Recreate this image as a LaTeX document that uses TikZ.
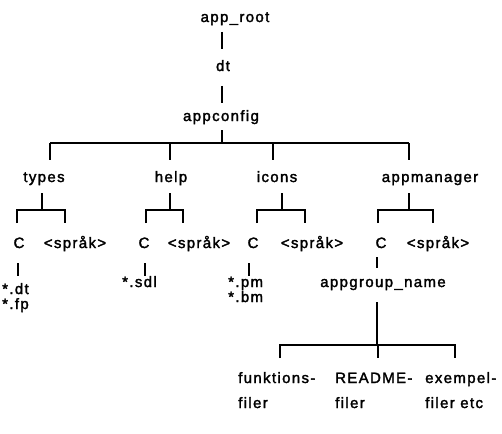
\documentclass[tikz,border=0pt]{standalone}
\usepackage{fontspec}
\newfontfamily\treefont{Liberation Sans}[LetterSpace=9,FakeBold=2]
\begin{document}
\begin{tikzpicture}[x=1pt,y=-1pt,
  lbl/.style={inner sep=0pt,anchor=base,font=\treefont\fontsize{15}{17}\selectfont},
  lblw/.style={lbl,anchor=base west},
  br/.style={line width=2pt}]
\useasboundingbox[fill=white] (0,0) rectangle (502,433);
% top chain
\node[lbl] (approot) at (235,22) {app\_root};
\node[lbl] (dt) at (223,71) {dt};
\node[lbl] (appconfig) at (221,121) {appconfig};
\coordinate (a1) at (222,32); \coordinate (a2) at (222,49);
\coordinate (b1) at (222,86); \coordinate (b2) at (222,103);
\coordinate (c1) at (222,130); \coordinate (c2) at (222,143);
\draw[br] (a1) -- (a2);
\draw[br] (b1) -- (b2);
\draw[br] (c1) -- (c2);
\coordinate (h1) at (50,143); \coordinate (h2) at (170,143);
\coordinate (h3) at (273,143); \coordinate (h4) at (409,143);
\draw[br] (h1) -- (h4);
\foreach \p in {h1,h2,h3,h4} \draw[br] (\p) -- ++(0,17);
% second level
\node[lbl] (types) at (44,182) {types};
\node[lbl] (help) at (171,182) {help};
\node[lbl] (icons) at (277,182) {icons};
\node[lbl] (appmanager) at (430,182) {appmanager};
% branches under second level
\foreach \x/\l/\r in {42/17/65, 170/146/183, 282/257/305, 409/378/433}{
  \draw[br] (\x,193) -- (\x,210);
  \draw[br] (\l,223) -- (\l,210) -- (\r,210) -- (\r,223);
}
% C and språk
\node[lbl] (c1n) at (19,248) {C};
\node[lbl] (s1) at (75,248) {<språk>};
\node[lbl] (c2n) at (144,248) {C};
\node[lbl] (s2) at (199,248) {<språk>};
\node[lbl] (c3n) at (253,248) {C};
\node[lbl] (s3) at (312,248) {<språk>};
\node[lbl] (c4n) at (381,248) {C};
\node[lbl] (s4) at (438,248) {<språk>};
\draw[br] (18,263) -- (18,276);
\draw[br] (145,263) -- (145,276);
\draw[br] (249,263) -- (249,276);
\draw[br] (377,257) -- (377,268);
% files
\node[lblw] (fdt) at (2,294) {*.dt};
\node[lblw] (ffp) at (2,309) {*.fp};
\node[lblw] (fsdl) at (122,287) {*.sdl};
\node[lblw] (fpm) at (228,287) {*.pm};
\node[lblw] (fbm) at (228,302) {*.bm};
\node[lbl] (agn) at (383,287) {appgroup\_name};
% bottom
\draw[br] (377,302) -- (377,345);
\draw[br] (280,358) -- (280,345) -- (455,345) -- (455,358);
\draw[br] (378,345) -- (378,358);
\node[lblw] (f1) at (238,383) {funktions-};
\node[lblw] (f1b) at (238,408) {filer};
\node[lblw] (f2) at (335,383) {README-};
\node[lblw] (f2b) at (335,408) {filer};
\node[lblw] (f3) at (425,383) {exempel-};
\node[lblw] (f3b) at (425,408) {filer etc};
\end{tikzpicture}
\end{document}
